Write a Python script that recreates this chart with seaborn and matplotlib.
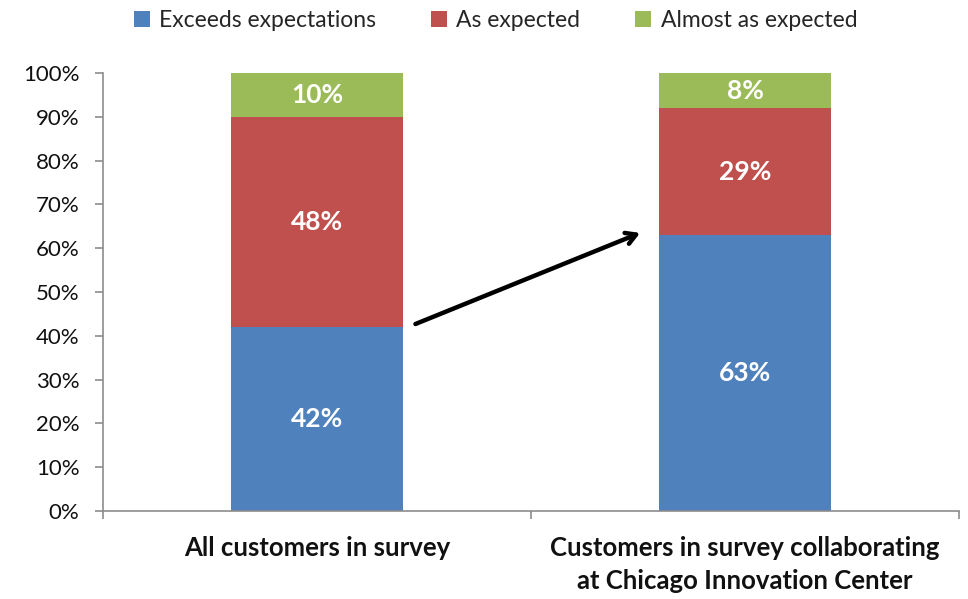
import matplotlib
matplotlib.use("Agg")
import matplotlib.pyplot as plt
import seaborn as sns
import pandas as pd
from matplotlib.patches import Patch
from matplotlib.ticker import FixedLocator

categories = ["All customers in survey",
              "Customers in survey collaborating\nat Chicago Innovation Center"]
exceeds = [42, 63]
as_expected = [48, 29]
almost = [10, 8]
series_names = ["Exceeds expectations", "As expected", "Almost as expected"]
colors = ["#4F81BD", "#C0504D", "#9BBB59"]

sns.set_theme(style="white")
plt.rcParams["font.family"] = ["Lato", "DejaVu Sans"]

fig = plt.figure(figsize=(9.68, 5.99), dpi=100)
ax = fig.add_axes([0.1064, 0.1469, 0.8843, 0.7311])

# stacked bars: draw cumulative totals from the top segment down
cum_low = exceeds
cum_mid = [a + b for a, b in zip(exceeds, as_expected)]
cum_top = [a + b + c for a, b, c in zip(exceeds, as_expected, almost)]
for totals, col in zip([cum_top, cum_mid, cum_low], colors[::-1]):
    df = pd.DataFrame({"cat": categories, "val": totals})
    sns.barplot(data=df, x="cat", y="val", color=col, width=0.4,
                saturation=1, ax=ax, edgecolor="none")

# segment labels
for i in range(len(categories)):
    bottoms = [0, exceeds[i], exceeds[i] + as_expected[i]]
    vals = [exceeds[i], as_expected[i], almost[i]]
    for b, v in zip(bottoms, vals):
        ax.text(i, b + v / 2, f"{v}%", ha="center", va="center",
                color="white", fontsize=19, fontweight="bold")

ax.set_xlim(-0.5, 1.5)
ax.set_ylim(0, 100)
ax.set_yticks(range(0, 101, 10))
ax.set_yticklabels([f"{t}%" for t in range(0, 101, 10)], fontsize=16, color="#111111")
ax.set_xticks([0, 1])
ax.set_xticklabels(categories, fontsize=18.5, fontweight="bold", color="#111111",
                   linespacing=1.45)
ax.set_xlabel("")
ax.set_ylabel("")

for s in ["top", "right"]:
    ax.spines[s].set_visible(False)
for s in ["left", "bottom"]:
    ax.spines[s].set_color("#8c8c8c")
    ax.spines[s].set_linewidth(1.2)

ax.tick_params(axis="y", which="major", direction="out", length=6, width=1.2,
               color="#8c8c8c", left=True, pad=11)
ax.tick_params(axis="x", which="major", length=0, pad=18)
ax.xaxis.set_minor_locator(FixedLocator([-0.5, 0.5, 1.5]))
ax.tick_params(axis="x", which="minor", direction="out", length=6, width=1.2,
               color="#8c8c8c", bottom=True)

ax.annotate("", xy=(0.755, 63.5), xytext=(0.23, 42.7),
            arrowprops=dict(arrowstyle="->,head_length=0.6,head_width=0.35",
                            color="black", lw=3.2, shrinkA=0, shrinkB=0))

handles = [Patch(facecolor=c, edgecolor="none") for c in colors]
fig.legend(handles, series_names, loc="upper center", bbox_to_anchor=(0.512, 1.017),
           ncol=3, frameon=False, fontsize=16.5, handlelength=0.7, handleheight=0.7,
           handletextpad=0.4, columnspacing=2.4)

fig.savefig("out.png", dpi=100)
